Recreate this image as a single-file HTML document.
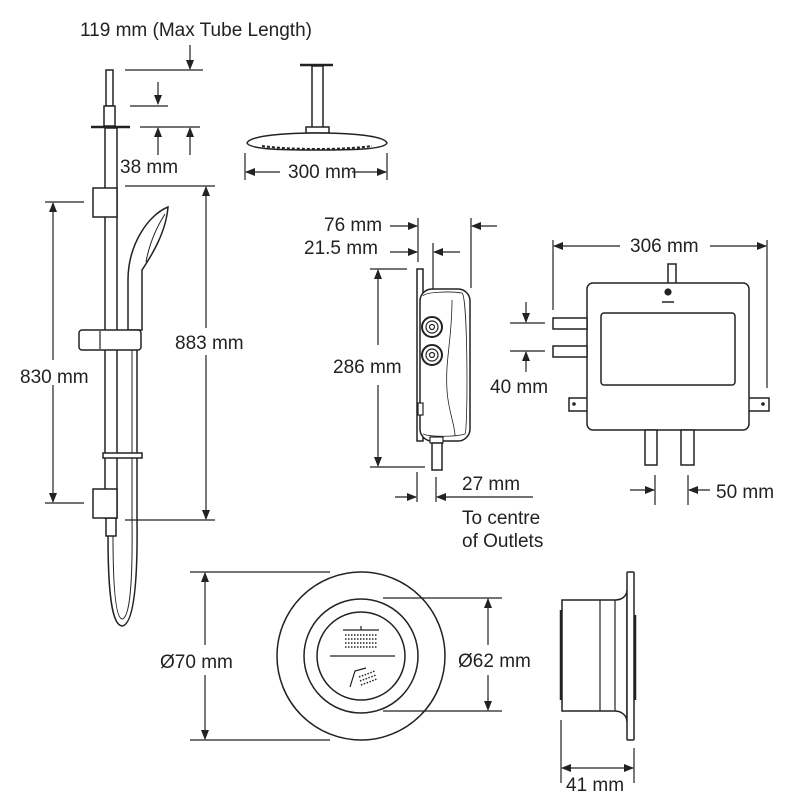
<!DOCTYPE html>
<html><head><meta charset="utf-8"><style>body{margin:0;background:#fff}svg{display:block}text{font-family:"Liberation Sans",sans-serif;font-size:19px;fill:#222}</style></head><body>
<svg width="800" height="800" viewBox="0 0 800 800" xmlns="http://www.w3.org/2000/svg">
<defs><marker id="a" markerWidth="10" markerHeight="8" refX="9" refY="4" orient="auto" markerUnits="userSpaceOnUse"><path d="M0,0 L10,4 L0,8 Z" fill="#222"/></marker></defs>
<g stroke="#222" stroke-width="1.2" fill="none">
<rect x="106" y="70" width="7" height="36" fill="#fff" stroke-width="1.5"/>
<rect x="104" y="106" width="11" height="20" fill="#fff" stroke-width="1.5"/>
<line x1="91" y1="127" x2="130" y2="127" stroke-width="2.5"/>
<rect x="105" y="128" width="12" height="390" fill="#fff" stroke-width="1.5"/>
<rect x="106" y="518" width="10" height="18" fill="#fff" stroke-width="1.5"/>
<rect x="93" y="188" width="24" height="29" fill="#fff" stroke-width="1.5"/>
<rect x="93" y="489" width="24" height="29" fill="#fff" stroke-width="1.5"/>
<path d="M108,536 C108,600 113,625 122,626 C131,625 138,600 137,520 L137,350" stroke-width="1.5"/>
<path d="M113,536 C113,598 117,618 122,619 C128,618 133,598 132,520 L132,350" stroke-width="1"/>
<path d="M128,330 L128,280 C128,245 148,215 168,207 C166,232 152,255 142,270 L142,330 Z" fill="#fff" stroke-width="1.5"/>
<path d="M146,262 C150,240 158,225 165,214" stroke-width="1"/>
<rect x="79" y="330" width="62" height="20" rx="3" fill="#fff" stroke-width="1.5"/>
<line x1="100" y1="331" x2="100" y2="349"/>
<rect x="103" y="453" width="39" height="5" fill="#fff" stroke-width="1.5"/>
<line x1="190" y1="45" x2="190" y2="69" marker-end="url(#a)"/>
<line x1="125" y1="70" x2="203" y2="70"/>
<line x1="158" y1="82" x2="158" y2="104" marker-end="url(#a)"/>
<line x1="130" y1="106" x2="168" y2="106"/>
<line x1="140" y1="127" x2="200" y2="127"/>
<line x1="158" y1="155" x2="158" y2="128" marker-end="url(#a)"/>
<line x1="190" y1="155" x2="190" y2="128" marker-end="url(#a)"/>
<line x1="125" y1="186" x2="215" y2="186"/>
<line x1="125" y1="520" x2="215" y2="520"/>
<line x1="206" y1="328" x2="206" y2="187" marker-end="url(#a)"/>
<line x1="206" y1="355" x2="206" y2="519" marker-end="url(#a)"/>
<line x1="45" y1="202" x2="84" y2="202"/>
<line x1="45" y1="503" x2="84" y2="503"/>
<line x1="53" y1="360" x2="53" y2="203" marker-end="url(#a)"/>
<line x1="53" y1="385" x2="53" y2="502" marker-end="url(#a)"/>
<rect x="312" y="66" width="11" height="62" fill="#fff" stroke-width="1.5"/>
<line x1="300" y1="65" x2="333" y2="65" stroke-width="2.5"/>
<rect x="306" y="127" width="23" height="6" fill="#fff" stroke-width="1.5"/>
<path d="M247,143 C250,135 290,133 316,133 C345,133 384,135 387,143 C384,150 345,150 316,150 C290,150 250,150 247,143 Z" fill="#fff" stroke-width="1.5"/>
<path d="M262,146 C290,150 345,150 372,146" stroke-width="2" stroke-dasharray="3,2"/>
<line x1="245" y1="153" x2="245" y2="180"/>
<line x1="387" y1="153" x2="387" y2="180"/>
<line x1="280" y1="172" x2="246" y2="172" marker-end="url(#a)"/>
<line x1="352" y1="172" x2="386" y2="172" marker-end="url(#a)"/>
<line x1="418" y1="218" x2="418" y2="262"/>
<line x1="471" y1="218" x2="471" y2="288"/>
<line x1="433" y1="243" x2="433" y2="312"/>
<line x1="390" y1="226" x2="417" y2="226" marker-end="url(#a)"/>
<line x1="497" y1="226" x2="472" y2="226" marker-end="url(#a)"/>
<line x1="390" y1="252" x2="417" y2="252" marker-end="url(#a)"/>
<line x1="460" y1="252" x2="434" y2="252" marker-end="url(#a)"/>
<rect x="417" y="269" width="6" height="172" fill="#fff" stroke-width="1.5"/>
<rect x="420" y="289" width="50" height="152" rx="12" fill="#fff" stroke-width="1.5"/>
<path d="M423,296 C425,292 450,291 462,293 C468,297 468,430 465,434 C455,437 430,437 423,434" stroke-width="0.8"/>
<path d="M452,300 C452,340 445,360 447,390 C448,410 455,425 455,436" stroke-width="0.8"/>
<circle cx="432" cy="327" r="10" fill="#fff" stroke-width="2"/><circle cx="432" cy="327" r="6"/><circle cx="432" cy="327" r="2.5"/>
<circle cx="432" cy="355" r="10" fill="#fff" stroke-width="2"/><circle cx="432" cy="355" r="6"/><circle cx="432" cy="355" r="2.5"/>
<rect x="418" y="403" width="5" height="12" fill="#fff"/>
<rect x="430" y="437" width="13" height="6" fill="#fff"/>
<rect x="432" y="443" width="10" height="27" fill="#fff" stroke-width="1.5"/>
<line x1="370" y1="269" x2="407" y2="269"/>
<line x1="370" y1="467" x2="425" y2="467"/>
<line x1="378" y1="345" x2="378" y2="270" marker-end="url(#a)"/>
<line x1="378" y1="385" x2="378" y2="466" marker-end="url(#a)"/>
<line x1="417" y1="472" x2="417" y2="502"/>
<line x1="436" y1="477" x2="436" y2="502"/>
<line x1="395" y1="497" x2="416" y2="497" marker-end="url(#a)"/>
<line x1="533" y1="497" x2="437" y2="497" marker-end="url(#a)"/>
<rect x="668" y="264" width="8" height="20" fill="#fff" stroke-width="1.5"/>
<rect x="569" y="398" width="200" height="13" fill="#fff" stroke-width="1.5"/>
<rect x="587" y="283" width="162" height="147" rx="6" fill="#fff" stroke-width="1.5"/>
<rect x="601" y="313" width="134" height="72" rx="3" stroke-width="1.5"/>
<circle cx="668" cy="292" r="3" fill="#222"/>
<line x1="662" y1="302" x2="674" y2="302" stroke-width="1.5"/>
<circle cx="574" cy="404" r="1.2" fill="#222"/><circle cx="763" cy="404" r="1.2" fill="#222"/>
<rect x="553" y="318" width="34" height="11" fill="#fff" stroke-width="1.5"/>
<rect x="553" y="346" width="34" height="11" fill="#fff" stroke-width="1.5"/>
<rect x="645" y="430" width="12" height="35" fill="#fff" stroke-width="1.5"/>
<rect x="681" y="430" width="13" height="35" fill="#fff" stroke-width="1.5"/>
<line x1="553" y1="240" x2="553" y2="310"/>
<line x1="767" y1="240" x2="767" y2="388"/>
<line x1="620" y1="246" x2="554" y2="246" marker-end="url(#a)"/>
<line x1="710" y1="246" x2="766" y2="246" marker-end="url(#a)"/>
<line x1="510" y1="323" x2="545" y2="323"/>
<line x1="510" y1="351" x2="545" y2="351"/>
<line x1="526" y1="302" x2="526" y2="322" marker-end="url(#a)"/>
<line x1="526" y1="372" x2="526" y2="352" marker-end="url(#a)"/>
<line x1="655" y1="475" x2="655" y2="505"/>
<line x1="688" y1="475" x2="688" y2="505"/>
<line x1="630" y1="490" x2="654" y2="490" marker-end="url(#a)"/>
<line x1="710" y1="490" x2="689" y2="490" marker-end="url(#a)"/>
<circle cx="361" cy="656" r="84" stroke-width="1.5"/>
<circle cx="361" cy="656" r="57" stroke-width="1.5"/>
<circle cx="361" cy="656" r="44" stroke-width="1.5"/>
<line x1="330" y1="656" x2="395" y2="656"/>
<line x1="343" y1="630" x2="379" y2="630" stroke-width="1.2"/>
<line x1="361" y1="626" x2="361" y2="630"/>
<path d="M345,635 H378 M345,639 H378 M345,643 H378 M345,647 H378" stroke-width="1.5" stroke-dasharray="1.5,1.5"/>
<path d="M350,687 L355,671 L366,668" stroke-width="1.2"/>
<path d="M359,677 L375,671 M360,681 L376,675 M361,685 L377,679" stroke-width="1.5" stroke-dasharray="1.5,1.5"/>
<line x1="190" y1="572" x2="330" y2="572"/>
<line x1="190" y1="740" x2="330" y2="740"/>
<line x1="205" y1="645" x2="205" y2="573" marker-end="url(#a)"/>
<line x1="205" y1="675" x2="205" y2="739" marker-end="url(#a)"/>
<line x1="383" y1="598" x2="502" y2="598"/>
<line x1="383" y1="711" x2="502" y2="711"/>
<line x1="488" y1="645" x2="488" y2="599" marker-end="url(#a)"/>
<line x1="488" y1="675" x2="488" y2="710" marker-end="url(#a)"/>
<path d="M562,600 H615 C622,600 627,596 627,590 V722 C627,716 622,711 615,711 H562 Z" fill="#fff" stroke-width="1.5"/>
<rect x="627" y="572" width="7" height="168" rx="1" fill="#fff" stroke-width="1.5"/>
<line x1="600" y1="600" x2="600" y2="711"/>
<line x1="615" y1="600" x2="615" y2="711"/>
<line x1="561" y1="610" x2="561" y2="700" stroke-width="2.5"/>
<line x1="635" y1="615" x2="635" y2="700" stroke-width="2.5"/>
<line x1="561" y1="720" x2="561" y2="783"/>
<line x1="634" y1="748" x2="634" y2="783"/>
<line x1="597" y1="768" x2="562" y2="768" marker-end="url(#a)"/>
<line x1="597" y1="768" x2="633" y2="768" marker-end="url(#a)"/>
</g>
<text x="80" y="36">119 mm (Max Tube Length)</text>
<text x="120" y="173">38 mm</text>
<text x="175" y="349">883 mm</text>
<text x="20" y="383">830 mm</text>
<text x="288" y="178" font-size="16">300 mm</text>
<text x="324" y="231">76 mm</text>
<text x="304" y="254">21.5 mm</text>
<text x="333" y="373">286 mm</text>
<text x="462" y="490">27 mm</text>
<text x="462" y="524">To centre</text>
<text x="462" y="547">of Outlets</text>
<text x="630" y="252">306 mm</text>
<text x="490" y="393">40 mm</text>
<text x="716" y="498">50 mm</text>
<text x="160" y="668">Ø70 mm</text>
<text x="458" y="667">Ø62 mm</text>
<text x="566" y="791">41 mm</text>
</svg>
</body></html>
